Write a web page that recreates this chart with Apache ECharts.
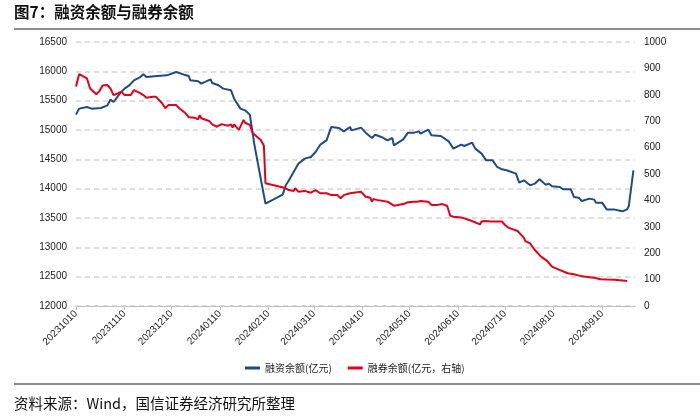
<!DOCTYPE html>
<html><head><meta charset="utf-8">
<script src="https://cdn.jsdelivr.net/npm/echarts@6/dist/echarts.min.js"></script>
<style>html,body{margin:0;padding:0;background:#fff}#c{width:700px;height:420px}</style>
</head><body><div id="c"></div>
<script>
const tickLabels = ['20231010','20231110','20231210','20240110','20240210','20240310','20240410','20240510','20240610','20240710','20240810','20240910'];
const leftAxis = {min: 12000, max: 16500, interval: 500};
const rightAxis = {min: 0, max: 1000, interval: 100};
const seriesNames = ['融资余额(亿元)', '融券余额(亿元，右轴)'];

const finDates = ['20231010','20231012','20231017','20231020','20231026','20231030','20231101','20231103','20231107','20231110','20231113','20231116','20231120','20231122','20231124','20231201','20231207','20231213','20231218','20231221','20231222','20231227','20231229','20240104','20240105','20240109','20240112','20240117','20240119','20240123','20240126','20240129','20240201','20240205','20240208','20240219','20240221','20240223','20240226','20240229','20240304','20240308','20240311','20240314','20240318','20240321','20240326','20240329','20240402','20240403','20240409','20240412','20240416','20240418','20240422','20240426','20240429','20240430','20240506','20240509','20240513','20240516','20240517','20240522','20240524','20240530','20240604','20240607','20240612','20240614','20240619','20240621','20240625','20240628','20240702','20240703','20240705','20240708','20240711','20240712','20240717','20240719','20240722','20240726','20240729','20240801','20240805','20240807','20240809','20240814','20240816','20240821','20240823','20240826','20240828','20240902','20240905','20240906','20240910','20240913','20240918','20240920','20240923','20240926','20240927','20240930'];
const finValues = [15262,15364,15392,15364,15375,15420,15517,15477,15620,15705,15760,15847,15903,15949,15903,15920,15932,15989,15943,15920,15847,15830,15790,15864,15800,15762,15705,15676,15534,15364,15335,15262,14739,14170,13745,13898,14057,14142,14284,14426,14512,14540,14625,14750,14824,15051,15034,14977,15051,14994,15040,14955,14864,14920,14881,14824,14864,14739,14841,14955,14955,14977,14938,15006,14909,14898,14807,14682,14750,14727,14784,14682,14597,14483,14483,14470,14370,14330,14313,14285,14256,14103,14142,14057,14085,14160,14068,14085,14040,14028,13989,13989,13859,13847,13790,13830,13813,13762,13762,13643,13643,13631,13614,13648,13700,14313];

const secDates = ['20231010','20231012','20231013','20231017','20231019','20231023','20231025','20231027','20231030','20231101','20231103','20231106','20231108','20231110','20231114','20231116','20231120','20231122','20231124','20231128','20231130','20231204','20231206','20231208','20231213','20231215','20231219','20231221','20231225','20231227','20231228','20231229','20240103','20240105','20240108','20240111','20240115','20240117','20240118','20240119','20240122','20240125','20240126','20240129','20240131','20240205','20240207','20240208','20240220','20240223','20240226','20240227','20240229','20240304','20240308','20240311','20240314','20240318','20240321','20240325','20240327','20240329','20240402','20240403','20240409','20240410','20240412','20240415','20240416','20240417','20240419','20240426','20240430','20240506','20240509','20240513','20240515','20240517','20240522','20240524','20240528','20240531','20240603','20240605','20240607','20240612','20240614','20240617','20240620','20240624','20240625','20240627','20240701','20240703','20240708','20240710','20240712','20240718','20240722','20240723','20240726','20240729','20240802','20240806','20240809','20240813','20240819','20240823','20240827','20240902','20240905','20240909','20240913','20240918','20240923','20240926','20240930'];
const secValues = [831,878,872,862,824,802,814,835,837,824,799,806,812,799,799,818,806,799,789,793,793,768,749,761,761,749,730,715,713,707,723,711,701,688,679,689,683,688,676,688,667,705,694,686,654,629,607,465,448,439,436,446,433,436,429,439,427,427,420,420,408,420,427,427,433,427,414,410,395,405,402,395,380,386,393,395,395,398,395,383,383,386,380,342,338,335,332,326,319,309,320,322,320,320,320,307,297,284,259,246,237,212,187,170,149,139,124,120,114,109,107,101,100,99,97,95];

// calendar-day category axis from first tick to 20241001
const cats = [];
(function(){
  const d = new Date(Date.UTC(2023, 9, 10));
  const end = new Date(Date.UTC(2024, 9, 1));
  while (d <= end) {
    const s = d.getUTCFullYear() + String(d.getUTCMonth()+1).padStart(2,'0') + String(d.getUTCDate()).padStart(2,'0');
    cats.push(s);
    d.setUTCDate(d.getUTCDate()+1);
  }
})();
function toSeries(dates, vals){
  const m = {}; dates.forEach((dt,i)=>{ m[dt] = vals[i]; });
  return cats.map(c => (c in m) ? m[c] : null);
}
const isTick = (idx, val) => tickLabels.indexOf(val) >= 0;

const FONT = "'Liberation Sans', Arial, 'Noto Sans CJK SC', sans-serif";
const CJK = "'Noto Sans CJK SC', 'Liberation Sans', sans-serif";
const chart = echarts.init(document.getElementById('c'), null, {renderer: 'canvas'});
chart.setOption({
  animation: false,
  backgroundColor: '#fff',
  grid: {left: 76, right: 65, top: 42, bottom: 114, containLabel: false},
  xAxis: {
    type: 'category', data: cats, boundaryGap: false,
    axisLine: {lineStyle: {color: '#bfbfbf', width: 1}},
    axisTick: {show: true, interval: isTick, length: 4, lineStyle: {color: '#bfbfbf'}},
    axisLabel: {interval: isTick, rotate: 45, color: '#222', fontSize: 10, fontFamily: FONT, margin: 6},
    splitLine: {show: false}
  },
  yAxis: [
    {type: 'value', min: leftAxis.min, max: leftAxis.max, interval: leftAxis.interval,
     axisLine: {show: false}, axisTick: {show: false},
     axisLabel: {color: '#222', fontSize: 10, fontFamily: FONT, margin: 9, formatter: v => String(v)},
     splitLine: {show: true, lineStyle: {color: '#d4d4d4', width: 1.5, type: [5, 4]}}},
    {type: 'value', min: rightAxis.min, max: rightAxis.max, interval: rightAxis.interval,
     axisLine: {show: false}, axisTick: {show: false},
     axisLabel: {color: '#222', fontSize: 10, fontFamily: FONT, margin: 9, formatter: v => String(v)},
     splitLine: {show: false}}
  ],
  legend: {
    top: 358, left: 240, itemWidth: 15, itemHeight: 3, itemGap: 16, icon: 'rect',
    textStyle: {fontSize: 10, color: '#222', fontFamily: CJK},
    data: seriesNames
  },
  series: [
    {name: seriesNames[0], type: 'line', yAxisIndex: 0, data: toSeries(finDates, finValues),
     connectNulls: true, showSymbol: false, symbol: 'none',
     lineStyle: {color: '#1e4b85', width: 2}, itemStyle: {color: '#1e4b85'}},
    {name: seriesNames[1], type: 'line', yAxisIndex: 1, data: toSeries(secDates, secValues),
     connectNulls: true, showSymbol: false, symbol: 'none',
     lineStyle: {color: '#e2001a', width: 2}, itemStyle: {color: '#e2001a'}}
  ],
  graphic: [
    {type: 'text', left: 14, top: 4, style: {text: '图7：融资余额与融券余额', fill: '#111', font: "bold 15.5px 'Noto Sans CJK SC', sans-serif"}},
    {type: 'rect', shape: {x: 14, y: 28, width: 686, height: 2}, style: {fill: '#8c8c8c'}},
    {type: 'rect', shape: {x: 14, y: 383, width: 686, height: 2}, style: {fill: '#8c8c8c'}},
    {type: 'text', left: 14, top: 396, style: {text: '资料来源：Wind，国信证券经济研究所整理', fill: '#111', font: "14.5px 'Noto Sans CJK SC', sans-serif"}}
  ]
});
</script></body></html>
